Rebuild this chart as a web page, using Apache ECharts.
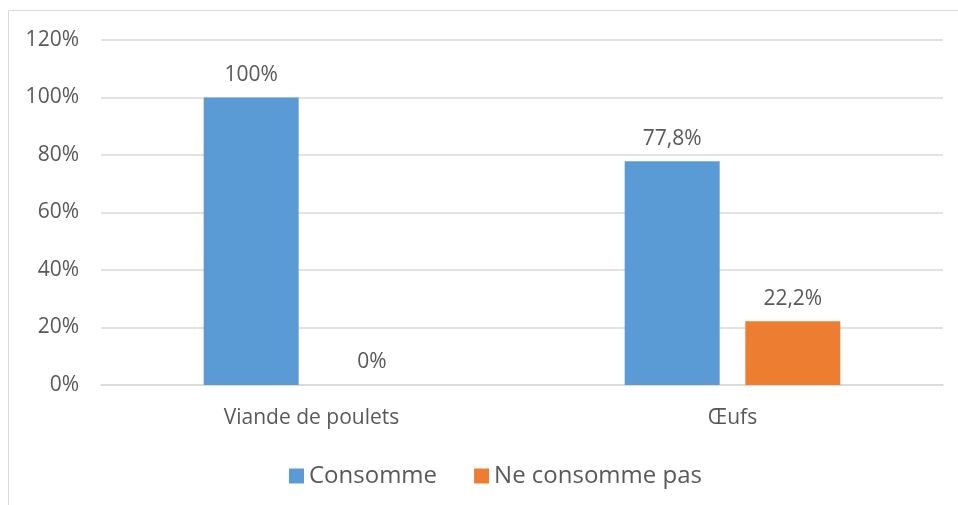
<!DOCTYPE html>
<html>
<head>
<meta charset="utf-8">
<script src="https://cdn.jsdelivr.net/npm/echarts@6/dist/echarts.min.js"></script>
<style>
  html, body { margin: 0; padding: 0; background: #fff; }
  #chart { width: 958px; height: 505px; }
</style>
</head>
<body>
<div id="chart"></div>
<script>
var categories = ['Viande de poulets', 'Œufs'];
var consomme = [100, 77.8];
var neConsommePas = [0, 22.2];
var seriesNames = ['Consomme', 'Ne consomme pas'];

var textColor = '#595959';
var font = 'Open Sans';

function pct(params) {
    return String(params.value).replace('.', ',') + '%';
}

var myChart = echarts.init(document.getElementById('chart'));
var option = {
    animation: false,
    color: ['#5B9BD5', '#ED7D31'],
    textStyle: { fontFamily: font },
    graphic: [{
        type: 'rect',
        shape: { x: 8.5, y: 10.5, width: 970, height: 520 },
        style: { fill: 'none', stroke: '#D9D9D9', lineWidth: 1 },
        silent: true
    }],
    grid: { left: 101, right: 15, top: 40, bottom: 120 },
    legend: {
        left: 284,
        top: 459,
        icon: 'rect',
        itemWidth: 15,
        itemHeight: 15,
        itemGap: 37,
        textStyle: { fontSize: 24, color: textColor, fontFamily: font },
        data: seriesNames
    },
    xAxis: {
        type: 'category',
        data: categories,
        axisLine: { lineStyle: { color: '#D9D9D9', width: 1.5 } },
        axisTick: { show: false },
        axisLabel: { fontSize: 21, color: textColor, margin: 23, fontFamily: font }
    },
    yAxis: {
        type: 'value',
        min: 0,
        max: 120,
        interval: 20,
        axisLine: { show: false },
        axisTick: { show: false },
        splitLine: { lineStyle: { color: '#D9D9D9', width: 1.5 } },
        axisLabel: { fontSize: 21, color: textColor, margin: 22, formatter: '{value}%', fontFamily: font }
    },
    series: [{
        name: seriesNames[0],
        type: 'bar',
        barWidth: 95,
        barGap: '27%',
        data: consomme,
        label: { show: true, position: 'top', distance: 12, fontSize: 21, color: textColor, formatter: pct, fontFamily: font }
    }, {
        name: seriesNames[1],
        type: 'bar',
        barWidth: 95,
        barGap: '27%',
        data: neConsommePas,
        label: { show: true, position: 'top', distance: 12, fontSize: 21, color: textColor, formatter: pct, fontFamily: font }
    }]
};
myChart.setOption(option);
</script>
</body>
</html>
